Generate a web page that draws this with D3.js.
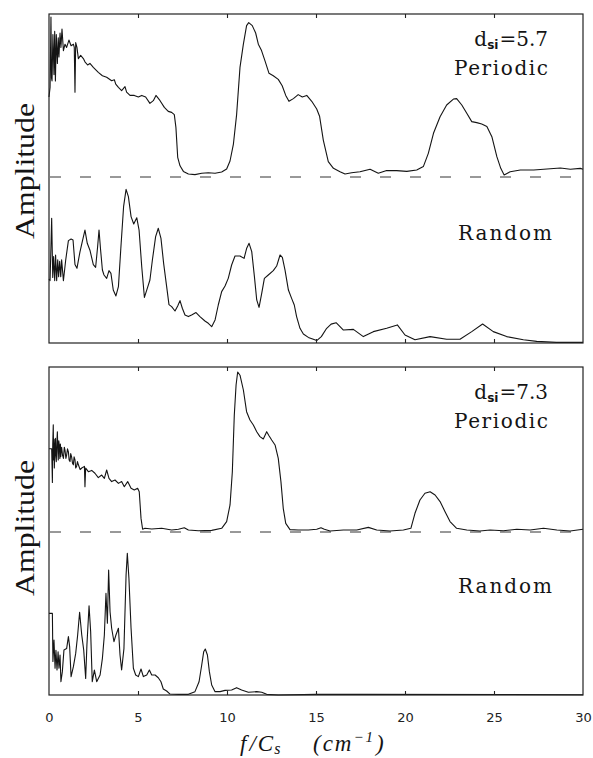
<!DOCTYPE html>
<html>
<head>
<meta charset="utf-8">
<script src="https://cdn.jsdelivr.net/npm/d3@7"></script>
<style>
  body { margin: 0; background: #fff; }
  svg { display: block; }
</style>
</head>
<body>
<svg id="chart" width="593" height="758"></svg>
<script>
// Frequency ticks along f/Cs (cm^-1)
const fTicks = [0, 5, 10, 15, 20, 25, 30];
const fTickLabels = ["0", "5", "10", "15", "20", "25", "30"];

// Spectra as [f/Cs, amplitude] pairs (arbitrary amplitude units)
const periodic57 = [[0.0,0.50],[0.06,0.56],[0.11,1.0],[0.14,0.62],[0.17,0.60],[0.22,0.89],[0.28,0.64],[0.32,0.91],[0.36,0.60],[0.41,0.89],[0.47,0.71],[0.52,0.87],[0.56,0.75],[0.62,0.90],[0.67,0.81],[0.73,0.925],[0.81,0.79],[0.90,0.83],[0.99,0.81],[1.12,0.856],[1.24,0.82],[1.37,0.83],[1.42,0.81],[1.46,0.53],[1.50,0.84],[1.57,0.81],[1.65,0.74],[1.78,0.76],[1.93,0.74],[2.02,0.72],[2.17,0.70],[2.30,0.71],[2.49,0.685],[2.77,0.654],[3.0,0.633],[3.24,0.623],[3.52,0.602],[3.67,0.608],[3.75,0.58],[3.90,0.56],[4.08,0.54],[4.27,0.565],[4.36,0.53],[4.55,0.51],[4.79,0.51],[5.02,0.50],[5.21,0.51],[5.43,0.50],[5.67,0.46],[5.86,0.477],[6.01,0.51],[6.24,0.477],[6.48,0.435],[6.70,0.41],[6.89,0.404],[7.04,0.39],[7.13,0.31],[7.23,0.123],[7.36,0.07],[7.55,0.035],[7.83,0.019],[8.2,0.015],[8.58,0.023],[8.95,0.027],[9.33,0.023],[9.7,0.031],[9.98,0.05],[10.17,0.10],[10.36,0.206],[10.54,0.39],[10.73,0.685],[10.92,0.83],[11.10,0.946],[11.22,0.965],[11.42,0.946],[11.61,0.90],[11.76,0.83],[11.94,0.79],[12.13,0.727],[12.36,0.648],[12.60,0.633],[12.88,0.61],[13.1,0.57],[13.3,0.51],[13.48,0.473],[13.73,0.49],[14.0,0.515],[14.23,0.50],[14.48,0.51],[14.76,0.473],[15.04,0.425],[15.2,0.38],[15.41,0.231],[15.69,0.096],[15.98,0.054],[16.35,0.033],[16.63,0.019],[17.0,0.027],[17.47,0.033],[18.04,0.048],[18.5,0.023],[18.97,0.04],[19.53,0.04],[20.1,0.035],[20.66,0.044],[21.03,0.065],[21.31,0.148],[21.6,0.273],[21.97,0.377],[22.34,0.45],[22.72,0.487],[22.9,0.49],[23.19,0.45],[23.47,0.398],[23.75,0.346],[24.03,0.340],[24.31,0.331],[24.6,0.315],[24.88,0.252],[25.16,0.127],[25.38,0.054],[25.57,0.013],[25.91,0.033],[26.48,0.044],[27.23,0.044],[27.98,0.05],[28.73,0.056],[29.29,0.048],[29.85,0.054],[30,0.048]];

const random57 = [[0.0,0.40],[0.06,0.39],[0.15,0.78],[0.21,0.41],[0.26,0.54],[0.32,0.39],[0.37,0.55],[0.43,0.39],[0.49,0.52],[0.54,0.415],[0.60,0.51],[0.66,0.415],[0.71,0.52],[0.81,0.39],[0.94,0.52],[1.09,0.64],[1.24,0.65],[1.35,0.644],[1.46,0.49],[1.57,0.467],[1.74,0.57],[1.87,0.633],[2.02,0.706],[2.15,0.623],[2.30,0.58],[2.49,0.49],[2.62,0.473],[2.73,0.60],[2.81,0.706],[2.90,0.58],[3.0,0.456],[3.09,0.425],[3.24,0.404],[3.37,0.452],[3.48,0.435],[3.61,0.331],[3.76,0.294],[3.90,0.352],[4.04,0.60],[4.19,0.852],[4.33,0.96],[4.46,0.915],[4.61,0.79],[4.76,0.744],[4.93,0.783],[5.06,0.706],[5.21,0.477],[5.36,0.285],[5.49,0.331],[5.67,0.394],[5.81,0.52],[5.99,0.665],[6.14,0.717],[6.29,0.654],[6.44,0.498],[6.61,0.352],[6.74,0.24],[6.89,0.227],[7.08,0.20],[7.23,0.231],[7.36,0.265],[7.49,0.217],[7.64,0.175],[7.83,0.165],[8.01,0.175],[8.26,0.19],[8.48,0.165],[8.76,0.1375],[8.95,0.123],[9.14,0.102],[9.33,0.144],[9.51,0.2375],[9.70,0.321],[9.89,0.356],[10.07,0.404],[10.26,0.4875],[10.45,0.544],[10.73,0.544],[10.96,0.529],[11.1,0.59],[11.24,0.623],[11.39,0.571],[11.54,0.415],[11.67,0.269],[11.8,0.223],[11.95,0.31],[12.1,0.404],[12.32,0.425],[12.6,0.452],[12.79,0.481],[12.98,0.55],[13.11,0.535],[13.26,0.456],[13.45,0.331],[13.63,0.279],[13.78,0.2375],[13.91,0.165],[14.1,0.092],[14.29,0.056],[14.57,0.035],[14.85,0.023],[15.04,0.015],[15.3,0.04],[15.6,0.092],[15.85,0.118],[16.13,0.127],[16.54,0.081],[17.1,0.085],[17.66,0.04],[18.22,0.071],[18.97,0.092],[19.57,0.113],[20.0,0.05],[20.56,0.02],[21.41,0.04],[22.34,0.023],[23.09,0.023],[23.75,0.071],[24.36,0.119],[24.96,0.071],[25.71,0.04],[26.65,0.02],[27.4,0.01],[28.5,0.004],[30,0.004]];

const periodic73 = [[0,0.52],[0.15,0.52],[0.17,0.42],[0.19,0.31],[0.21,0.55],[0.24,0.67],[0.26,0.45],[0.28,0.58],[0.30,0.40],[0.33,0.52],[0.36,0.585],[0.38,0.48],[0.41,0.44],[0.44,0.56],[0.47,0.627],[0.50,0.50],[0.52,0.45],[0.55,0.57],[0.58,0.54],[0.61,0.46],[0.64,0.55],[0.66,0.47],[0.69,0.51],[0.71,0.53],[0.76,0.48],[0.81,0.46],[0.86,0.53],[0.90,0.51],[0.95,0.46],[0.99,0.48],[1.04,0.52],[1.09,0.50],[1.13,0.45],[1.18,0.44],[1.22,0.49],[1.27,0.47],[1.32,0.43],[1.37,0.42],[1.41,0.47],[1.46,0.45],[1.50,0.40],[1.55,0.41],[1.60,0.44],[1.65,0.42],[1.75,0.39],[1.84,0.40],[1.99,0.41],[2.02,0.283],[2.06,0.40],[2.21,0.377],[2.40,0.385],[2.58,0.367],[2.77,0.34],[2.96,0.356],[3.11,0.335],[3.24,0.3875],[3.37,0.335],[3.52,0.315],[3.71,0.325],[3.90,0.304],[4.08,0.315],[4.23,0.283],[4.42,0.315],[4.61,0.273],[4.79,0.2625],[4.98,0.273],[5.07,0.252],[5.17,0.085],[5.26,0.017],[5.39,0.023],[5.77,0.019],[6.33,0.023],[6.89,0.0125],[7.27,0.017],[7.6,0.027],[7.83,0.0125],[8.39,0.008],[9.14,0.010],[9.70,0.023],[9.98,0.065],[10.17,0.169],[10.30,0.377],[10.41,0.731],[10.51,0.919],[10.60,1.0],[10.73,0.98],[10.92,0.8875],[11.10,0.752],[11.29,0.70],[11.48,0.669],[11.67,0.627],[11.85,0.596],[12.04,0.581],[12.23,0.627],[12.36,0.602],[12.51,0.575],[12.70,0.544],[12.88,0.46],[13.03,0.315],[13.16,0.148],[13.3,0.054],[13.54,0.015],[14.0,0.0125],[14.57,0.0125],[15.04,0.017],[15.28,0.027],[15.47,0.017],[15.79,0.006],[16.54,0.0125],[17.29,0.0125],[17.94,0.029],[18.41,0.0125],[19.16,0.006],[19.91,0.0125],[20.33,0.023],[20.56,0.117],[20.84,0.2],[21.12,0.242],[21.41,0.252],[21.69,0.231],[21.97,0.19],[22.25,0.127],[22.53,0.065],[22.9,0.023],[23.47,0.0125],[24.21,0.006],[24.78,0.0125],[25.53,0.008],[26.28,0.017],[27.03,0.0125],[27.78,0.023],[28.53,0.0125],[29.28,0.006],[30,0.017]];

const random73 = [[0,0.51],[0.19,0.51],[0.22,0.21],[0.28,0.344],[0.34,0.167],[0.39,0.28],[0.45,0.156],[0.51,0.27],[0.56,0.167],[0.62,0.25],[0.67,0.083],[0.75,0.146],[0.84,0.281],[0.99,0.29],[1.09,0.365],[1.16,0.302],[1.24,0.115],[1.37,0.177],[1.50,0.26],[1.61,0.375],[1.72,0.517],[1.84,0.375],[1.95,0.281],[2.06,0.104],[2.13,0.3125],[2.25,0.558],[2.34,0.396],[2.43,0.083],[2.55,0.156],[2.68,0.083],[2.87,0.125],[3.0,0.229],[3.11,0.375],[3.20,0.635],[3.28,0.448],[3.35,0.781],[3.43,0.52],[3.52,0.417],[3.65,0.333],[3.76,0.375],[3.90,0.417],[3.99,0.25],[4.08,0.156],[4.21,0.29],[4.33,0.75],[4.40,0.885],[4.49,0.73],[4.61,0.417],[4.74,0.167],[4.87,0.125],[5.02,0.115],[5.17,0.1625],[5.30,0.115],[5.49,0.125],[5.64,0.156],[5.77,0.125],[5.96,0.125],[6.14,0.108],[6.29,0.083],[6.42,0.0375],[6.61,0.025],[6.80,0.006],[7.27,0.004],[7.83,0.004],[8.20,0.021],[8.43,0.083],[8.58,0.1875],[8.69,0.27],[8.78,0.2875],[8.90,0.25],[9.01,0.146],[9.14,0.0625],[9.33,0.021],[9.61,0.021],[9.89,0.029],[10.26,0.031],[10.54,0.046],[10.82,0.031],[11.2,0.017],[11.67,0.021],[11.95,0.017],[12.23,0.004],[12.88,0],[15.0,0.004],[17.5,0.004],[30,0.002]];

// Panel labels
const spacings = ["5.7", "7.3"];
const seriesNames = ["Periodic", "Random"];

// Layout of the two stacked panels
const panels = [
  { top: 14,  bottom: 343, base: 177, periodic: periodic57, random: random57, dsi: spacings[0], ampCenter: 171 },
  { top: 367, bottom: 695, base: 532, periodic: periodic73, random: random73, dsi: spacings[1], ampCenter: 528 }
];

const svg = d3.select("#chart");
const x = d3.scaleLinear().domain([0, 30]).range([49, 583]);
const unitPx = 160;
const ink = "#141414";

panels.forEach((p, i) => {
  const g = svg.append("g");
  const yP = d3.scaleLinear().domain([0, 1]).range([p.base, p.base - unitPx]);
  const yR = d3.scaleLinear().domain([0, 1]).range([p.bottom, p.bottom - unitPx]);

  // zero line under the periodic spectrum
  g.append("line")
    .attr("x1", x(0) + 1).attr("x2", x(30))
    .attr("y1", yP(0)).attr("y2", yP(0))
    .attr("stroke", "#333").attr("stroke-width", 1)
    .attr("stroke-dasharray", "11,19");

  const lineP = d3.line().x(d => x(d[0])).y(d => yP(d[1]));
  const lineR = d3.line().x(d => x(d[0])).y(d => yR(d[1]));

  g.append("path").datum(p.periodic)
    .attr("d", lineP).attr("fill", "none")
    .attr("stroke", ink).attr("stroke-width", 1.1).attr("stroke-linejoin", "round");
  g.append("path").datum(p.random)
    .attr("d", lineR).attr("fill", "none")
    .attr("stroke", ink).attr("stroke-width", 1.1).attr("stroke-linejoin", "round");

  // frame
  g.append("rect")
    .attr("x", x(0)).attr("y", p.top)
    .attr("width", x(30) - x(0)).attr("height", p.bottom - p.top)
    .attr("fill", "none").attr("stroke", "#222").attr("stroke-width", 1.2);

  // inward ticks, top and bottom
  const inner = fTicks.slice(1, -1);
  const topAxis = g.append("g").attr("transform", `translate(0,${p.top})`)
    .call(d3.axisBottom(x).tickValues(inner).tickSize(4).tickFormat(""));
  const botAxis = g.append("g").attr("transform", `translate(0,${p.bottom})`)
    .call(d3.axisTop(x).tickValues(inner).tickSize(4).tickFormat(""));
  [topAxis, botAxis].forEach(a => {
    a.select(".domain").remove();
    a.selectAll("line").attr("stroke", "#222").attr("stroke-width", 1.1);
  });

  // labels
  const labelFont = "'DejaVu Serif', serif";
  const dsi = g.append("text")
    .attr("x", 548).attr("y", p.top + 32)
    .attr("text-anchor", "end")
    .attr("font-family", labelFont).attr("font-size", 20).attr("fill", ink);
  dsi.append("tspan").text("d");
  dsi.append("tspan").attr("font-family", "'DejaVu Sans', sans-serif").attr("font-weight", "bold")
    .attr("font-size", 12).attr("dy", 3).text("si");
  dsi.append("tspan").attr("dy", -3).attr("dx", 1).text("=" + p.dsi);

  g.append("text")
    .attr("x", 548).attr("y", p.top + 61)
    .attr("text-anchor", "end")
    .attr("font-family", labelFont).attr("font-size", 20).attr("fill", ink)
    .attr("textLength", 94).attr("lengthAdjust", "spacing")
    .text(seriesNames[0]);

  g.append("text")
    .attr("x", 552).attr("y", p.top + 226)
    .attr("text-anchor", "end")
    .attr("font-family", labelFont).attr("font-size", 20).attr("fill", ink)
    .attr("textLength", 94).attr("lengthAdjust", "spacing")
    .text(seriesNames[1]);

  // y-axis title
  g.append("text")
    .attr("transform", `translate(34,${p.ampCenter}) rotate(-90)`)
    .attr("text-anchor", "middle")
    .attr("font-family", "'Liberation Serif', serif").attr("font-size", 28).attr("fill", ink)
    .attr("textLength", 136).attr("lengthAdjust", "spacingAndGlyphs")
    .text("Amplitude");
});

// tick labels under the lower panel
const labelAxis = svg.append("g").attr("transform", `translate(0,${panels[1].bottom})`)
  .call(d3.axisBottom(x).tickValues(fTicks).tickSize(0).tickPadding(18)
    .tickFormat((d, i) => fTickLabels[i]));
labelAxis.select(".domain").remove();
labelAxis.selectAll("text")
  .attr("font-family", "'DejaVu Sans', sans-serif").attr("font-size", 13)
  .attr("fill", "#222");

// x-axis title: f/Cs (cm^-1)
const titleFont = "'Liberation Serif', serif";
const t1 = svg.append("text").attr("x", 240).attr("y", 751)
  .attr("font-family", titleFont).attr("font-style", "italic").attr("font-size", 23).attr("fill", ink);
t1.append("tspan").text("f");
t1.append("tspan").attr("dx", 3).text("/");
t1.append("tspan").attr("dx", 2).text("C");
t1.append("tspan").attr("dy", 3).attr("dx", 1).attr("font-size", 16).text("s");

const t2 = svg.append("text").attr("x", 313).attr("y", 751)
  .attr("font-family", titleFont).attr("font-style", "italic").attr("font-size", 23).attr("fill", ink)
  .attr("letter-spacing", 2);
t2.append("tspan").text("(cm");
t2.append("tspan").attr("dy", -9).attr("font-size", 15).text("−1");
t2.append("tspan").attr("dy", 9).attr("dx", 1).text(")");
</script>
</body>
</html>
